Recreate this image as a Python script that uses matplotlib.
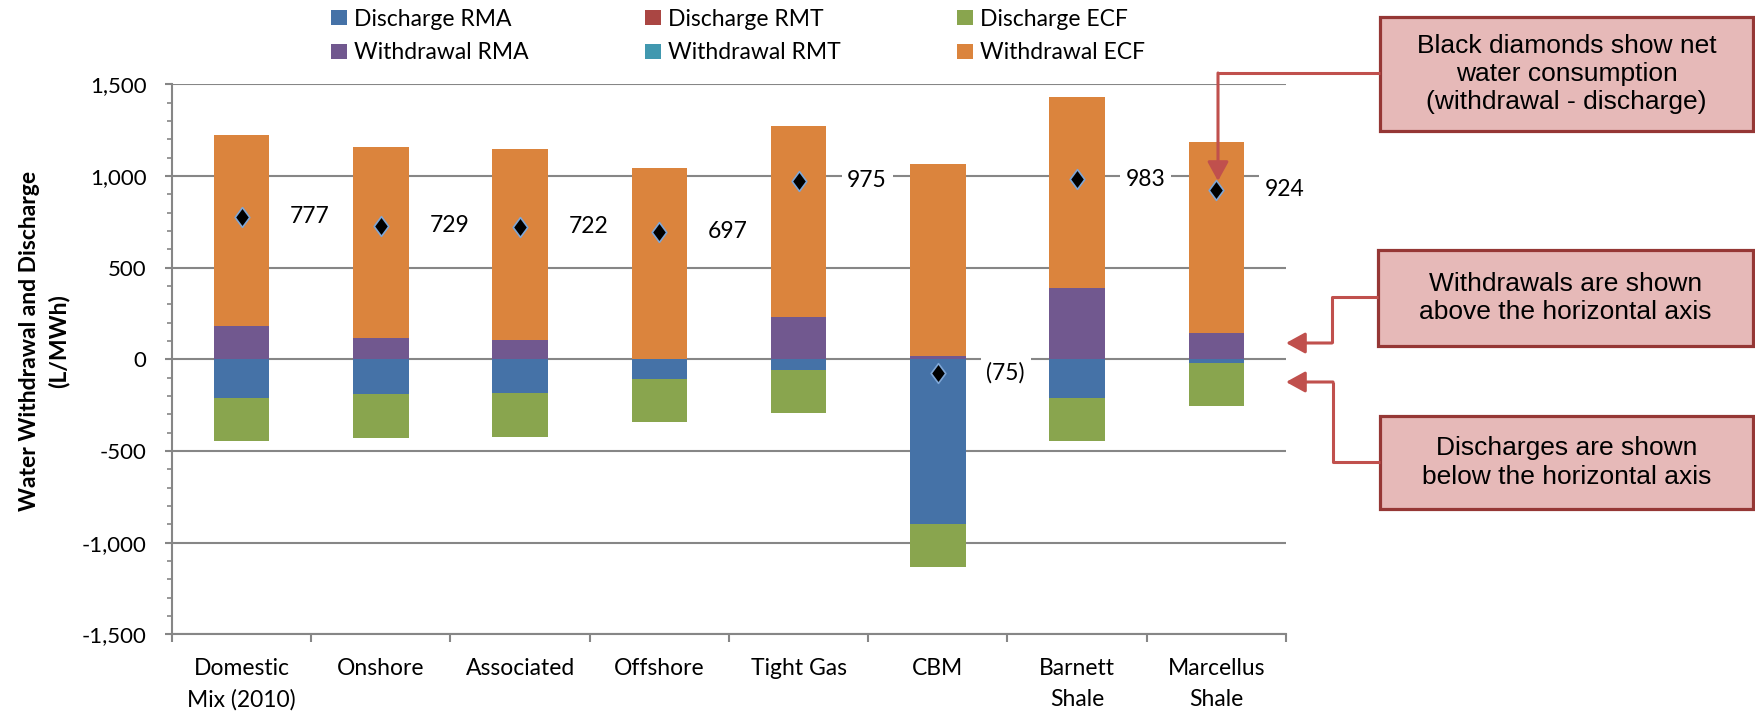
import matplotlib
matplotlib.use("Agg")
import matplotlib.pyplot as plt
import numpy as np
from matplotlib.path import Path
from matplotlib.patches import Rectangle, FancyArrowPatch
from matplotlib.lines import Line2D
from matplotlib.ticker import FuncFormatter, MultipleLocator, FixedLocator

# ---------------- data ----------------
categories = ["Domestic\nMix (2010)", "Onshore", "Associated", "Offshore",
              "Tight Gas", "CBM", "Barnett\nShale", "Marcellus\nShale"]
discharge_rma = [-212, -189, -185, -109, -60, -897, -209, -20]
discharge_rmt = [0, 0, 0, 0, 0, 0, 0, 0]
discharge_ecf = [-235, -238, -240, -234, -234, -237, -234, -236]
withdrawal_rma = [184, 118, 107, 0, 229, 20, 391, 144]
withdrawal_rmt = [0, 0, 0, 0, 0, 0, 0, 0]
withdrawal_ecf = [1039, 1040, 1040, 1042, 1044, 1044, 1040, 1040]
net_consumption = [777, 729, 722, 697, 975, -75, 983, 924]
net_labels = ["777", "729", "722", "697", "975", "(75)", "983", "924"]

series_names = ["Discharge RMA", "Discharge RMT", "Discharge ECF",
                "Withdrawal RMA", "Withdrawal RMT", "Withdrawal ECF"]
colors = {"Discharge RMA": "#4572A7", "Discharge RMT": "#AA4643",
          "Discharge ECF": "#89A54E", "Withdrawal RMA": "#71588F",
          "Withdrawal RMT": "#4198AF", "Withdrawal ECF": "#DB843D"}

annotations = ["Black diamonds show net\nwater consumption\n(withdrawal - discharge)",
               "Withdrawals are shown\nabove the horizontal axis",
               "Discharges are shown\nbelow the horizontal axis"]

# ---------------- figure ----------------
W, H = 1756, 714
DPI = 100
plt.rcParams["font.family"] = ["Lato", "DejaVu Sans"]
fig = plt.figure(figsize=(W / DPI, H / DPI), dpi=DPI)


def fx(px):
    return px / W


def fy(py):
    return 1 - py / H


ax_l, ax_r, ax_t, ax_b = 172, 1286, 84.3, 634.3
ax = fig.add_axes([fx(ax_l), fy(ax_b), fx(ax_r - ax_l), (ax_b - ax_t) / H])

x = np.arange(len(categories))
bw = 0.40
grid_c = "#868686"

d_rma = np.array(discharge_rma, float)
d_rmt = np.array(discharge_rmt, float)
d_ecf = np.array(discharge_ecf, float)
w_rma = np.array(withdrawal_rma, float)
w_rmt = np.array(withdrawal_rmt, float)
w_ecf = np.array(withdrawal_ecf, float)

h = {}
h["Discharge RMA"] = ax.bar(x, d_rma, bw, color=colors["Discharge RMA"], label="Discharge RMA", zorder=2)
h["Discharge RMT"] = ax.bar(x, d_rmt, bw, bottom=d_rma, color=colors["Discharge RMT"], label="Discharge RMT", zorder=2)
h["Discharge ECF"] = ax.bar(x, d_ecf, bw, bottom=d_rma + d_rmt, color=colors["Discharge ECF"], label="Discharge ECF", zorder=2)
h["Withdrawal RMA"] = ax.bar(x, w_rma, bw, color=colors["Withdrawal RMA"], label="Withdrawal RMA", zorder=2)
h["Withdrawal RMT"] = ax.bar(x, w_rmt, bw, bottom=w_rma, color=colors["Withdrawal RMT"], label="Withdrawal RMT", zorder=2)
h["Withdrawal ECF"] = ax.bar(x, w_ecf, bw, bottom=w_rma + w_rmt, color=colors["Withdrawal ECF"], label="Withdrawal ECF", zorder=2)

# net consumption diamonds
diamond = Path([(0, 1), (0.74, 0), (0, -1), (-0.74, 0), (0, 1)],
               [Path.MOVETO, Path.LINETO, Path.LINETO, Path.LINETO, Path.CLOSEPOLY])
ax.plot(x, net_consumption, linestyle="none", marker=diamond, markersize=14.2,
        markerfacecolor="black", markeredgecolor="#7EA6D6", markeredgewidth=1.2, zorder=4)
for xi, v, lab in zip(x, net_consumption, net_labels):
    ax.annotate(lab, xy=(xi, v), xytext=(35, 0), textcoords="offset points",
                ha="left", va="center", fontsize=16.5, color="black", zorder=5,
                bbox=dict(boxstyle="square,pad=0.25", fc="white", ec="none"))

# axes styling
ax.set_xlim(-0.5, len(categories) - 0.5)
ax.set_ylim(-1500, 1500)
ax.yaxis.set_major_locator(MultipleLocator(500))
ax.yaxis.set_minor_locator(MultipleLocator(100))
ax.yaxis.set_major_formatter(FuncFormatter(lambda v, p: f"{int(v):,}"))
ax.yaxis.grid(True, which="major", color=grid_c, linewidth=1.5)
ax.set_axisbelow(True)
for s in ["top", "right"]:
    ax.spines[s].set_visible(False)
for s in ["left", "bottom"]:
    ax.spines[s].set_color(grid_c)
    ax.spines[s].set_linewidth(1.5)

ax.tick_params(axis="y", which="major", direction="out", length=5.2, width=1.5,
               color=grid_c, labelsize=16, pad=13)
ax.tick_params(axis="y", which="minor", direction="out", length=3.6, width=1.2, color=grid_c)

ax.xaxis.set_major_locator(FixedLocator(np.arange(-0.5, len(categories), 1.0)))
ax.xaxis.set_major_formatter(FuncFormatter(lambda v, p: ""))
ax.xaxis.set_minor_locator(FixedLocator(x))
ax.set_xticklabels(categories, minor=True)
ax.tick_params(axis="x", which="major", direction="out", length=6, width=1.5, color=grid_c)
ax.tick_params(axis="x", which="minor", length=0, labelsize=16.5, pad=17)
for lbl in ax.get_xticklabels(minor=True):
    lbl.set_linespacing(1.6)
    lbl.set_verticalalignment("top")

ax.set_ylabel("Water Withdrawal and Discharge\n(L/MWh)", fontsize=16.5, fontweight="bold",
              linespacing=1.45)
ax.yaxis.set_label_coords((44 - ax_l) / (ax_r - ax_l), (ax_b - 341) / (ax_b - ax_t))
ax.yaxis.label.set_va("center")

# legend: three columns, two rows
col_x = [331, 645, 957]
col_items = [["Discharge RMA", "Withdrawal RMA"],
             ["Discharge RMT", "Withdrawal RMT"],
             ["Discharge ECF", "Withdrawal ECF"]]
for cx, items in zip(col_x, col_items):
    fig.legend(handles=[h[n] for n in items], labels=items, loc="center left",
               bbox_to_anchor=(fx(cx), fy(36)), frameon=False, fontsize=16.5,
               borderpad=0, borderaxespad=0, handlelength=0.7, handleheight=0.66,
               handletextpad=0.3, labelspacing=0.56)

# annotation boxes
box_fc = "#E6B9B8"
box_ec = "#953735"
arrow_c = "#C0504D"
boxes = [(1380, 1753, 17, 131), (1378, 1753, 250, 346), (1380, 1753, 416, 509)]
for (x0, x1, y0, y1), txt in zip(boxes, annotations):
    fig.add_artist(Rectangle((fx(x0), fy(y1)), fx(x1 - x0), (y1 - y0) / H,
                             transform=fig.transFigure, facecolor=box_fc,
                             edgecolor=box_ec, linewidth=2.3, zorder=3))
    fig.text(fx((x0 + x1) / 2), fy((y0 + y1) / 2), txt, ha="center", va="center",
             fontsize=19, family=["Liberation Sans", "DejaVu Sans"], color="black",
             linespacing=1.22, zorder=4)

# connector arrows (pixel paths: last segment carries the arrowhead)
arrow_paths = [
    [(1380, 73), (1218, 73), (1218, 181)],
    [(1378, 297), (1332, 297), (1332, 343), (1286, 343)],
    [(1380, 462), (1333, 462), (1333, 382), (1286, 382)],
]
for pts in arrow_paths:
    xs = [fx(p[0]) for p in pts[:-1]]
    ys = [fy(p[1]) for p in pts[:-1]]
    fig.add_artist(Line2D(xs, ys, transform=fig.transFigure, color=arrow_c,
                          linewidth=2.2, solid_capstyle="butt", zorder=5))
    a, b = pts[-2], pts[-1]
    fig.add_artist(FancyArrowPatch((fx(a[0]), fy(a[1])), (fx(b[0]), fy(b[1])),
                                   transform=fig.transFigure,
                                   arrowstyle="-|>,head_length=0.4,head_width=0.22",
                                   mutation_scale=29, color=arrow_c, linewidth=2.2,
                                   shrinkA=0, shrinkB=0, zorder=5))

fig.savefig("out.png", dpi=DPI)
